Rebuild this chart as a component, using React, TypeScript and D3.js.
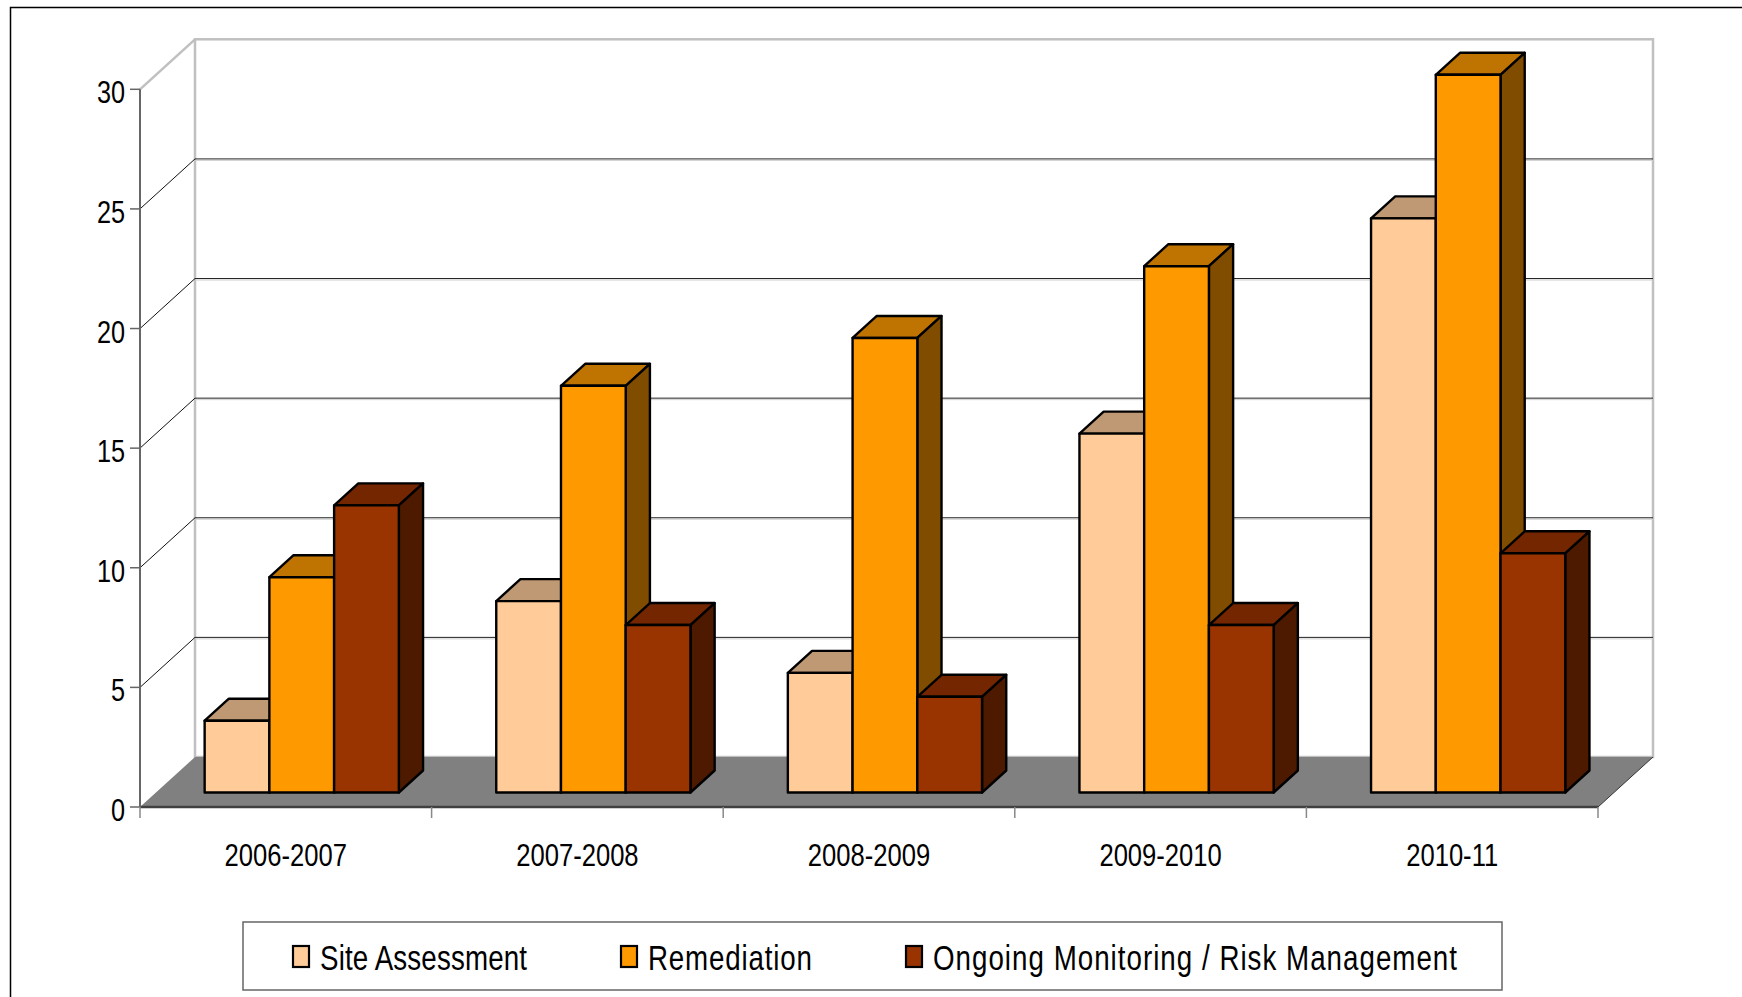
import React from "react";
import * as d3 from "d3";

// chart data
const categories = ["2006-2007", "2007-2008", "2008-2009", "2009-2010", "2010-11"];
const seriesNames = ["Site Assessment", "Remediation", "Ongoing Monitoring / Risk Management"];
const siteAssessment = [3, 8, 5, 15, 24];
const remediation = [9, 17, 19, 22, 30];
const monitoring = [12, 7, 4, 7, 10];
const yTicks = [0, 5, 10, 15, 20, 25, 30];

const seriesValues = [siteAssessment, remediation, monitoring];
const colors = ["#FFCC99", "#FF9900", "#993300"];

const W = 1742;
const H = 997;
const FONT = "'Liberation Sans', Arial, sans-serif";

// 3d depth offset of the plot box
const DX = 55;
const DY = 50;
const Z0 = 0.29;
const Z1 = 0.73;

const shade = (c: string, k: number) => {
  const col = d3.rgb(c);
  return d3.rgb(col.r * k, col.g * k, col.b * k).formatHex();
};

// narrow text: regular sans squeezed horizontally
function NText(props: {
  x: number;
  y: number;
  size: number;
  sx: number;
  anchor?: string;
  len?: number;
  children: React.ReactNode;
}) {
  return (
    <text
      transform={`translate(${props.x},${props.y}) scale(${props.sx},1)`}
      textAnchor={props.anchor || "start"}
      fontFamily={FONT}
      fontSize={props.size}
      fill="#000"
      textLength={props.len ? props.len / props.sx : undefined}
      lengthAdjust={props.len ? "spacing" : undefined}
    >
      {props.children}
    </text>
  );
}

export default function App() {
  const x = d3.scaleBand<string>().domain(categories).range([140, 1598]).padding(0);
  const bw = x.bandwidth();
  const x1 = d3
    .scaleBand<string>()
    .domain(seriesNames)
    .range([bw * 0.167, bw * 0.833])
    .padding(0);
  const y = d3.scaleLinear().domain([0, 30]).range([807, 89.3]);

  const [xl, xr] = x.range();
  const p = (px: number, v: number, z: number) => [px + z * DX, y(v) - z * DY];
  const pts = (arr: number[][]) => arr.map((d) => d.join(",")).join(" ");

  const bars: React.ReactNode[] = [];
  categories.forEach((cat, i) => {
    seriesNames.forEach((s, j) => {
      const v = seriesValues[j][i];
      const x0 = (x(cat) as number) + (x1(s) as number);
      const w = x1.bandwidth();
      const c = colors[j];
      const top = [p(x0, v, Z0), p(x0 + w, v, Z0), p(x0 + w, v, Z1), p(x0, v, Z1)];
      const side = [p(x0 + w, v, Z0), p(x0 + w, v, Z1), p(x0 + w, 0, Z1), p(x0 + w, 0, Z0)];
      const front = [p(x0, v, Z0), p(x0 + w, v, Z0), p(x0 + w, 0, Z0), p(x0, 0, Z0)];
      bars.push(
        <g key={cat + s} stroke="#000" strokeWidth={2.4} strokeLinejoin="round">
          <polygon points={pts(top)} fill={shade(c, 0.75)} />
          <polygon points={pts(side)} fill={shade(c, 0.5)} />
          <polygon points={pts(front)} fill={c} />
        </g>
      );
    });
  });

  const gridVals = yTicks.filter((t) => t > 0 && t < 30);
  // legend layout: swatch x and text width
  const legendX = [292, 620, 905];
  const legendLen = [207, 164, 524];

  return (
    <svg
      width={W}
      height={H}
      style={{ position: "absolute", left: 0, top: 0, display: "block", background: "#fff" }}
    >
      <rect x={10.5} y={7.5} width={1800} height={1100} fill="#fff" stroke="#000" strokeWidth={1.5} />

      {/* walls */}
      <polygon
        points={pts([p(xl, 30, 0), p(xl, 30, 1), p(xl, 0, 1), p(xl, 0, 0)])}
        fill="#fff"
      />
      <rect
        x={xl + DX}
        y={y(30) - DY}
        width={xr - xl}
        height={y(0) - y(30)}
        fill="#fff"
        stroke="#c0c0c0"
        strokeWidth={2.5}
      />
      <line
        x1={xl}
        y1={y(30)}
        x2={xl + DX}
        y2={y(30) - DY}
        stroke="#c0c0c0"
        strokeWidth={2.5}
      />
      {gridVals.map((t) => (
        <g key={t}>
          <line x1={xl + DX} x2={xr + DX} y1={y(t) - DY + 1.5} y2={y(t) - DY + 1.5} stroke="#d0d0d0" strokeWidth={1} />
          <line x1={xl + DX} x2={xr + DX} y1={y(t) - DY} y2={y(t) - DY} stroke="#222" strokeWidth={1} />
          <line x1={xl} x2={xl + DX} y1={y(t)} y2={y(t) - DY} stroke="#111" strokeWidth={1} />
        </g>
      ))}

      {/* floor */}
      <polygon points={pts([p(xl, 0, 0), p(xr, 0, 0), p(xr, 0, 1), p(xl, 0, 1)])} fill="#808080" />
      <line x1={xr} y1={y(0)} x2={xr + DX} y2={y(0) - DY} stroke="#333" strokeWidth={1} />
      <line x1={xl} x2={xr} y1={y(0)} y2={y(0)} stroke="#404040" strokeWidth={2.5} />

      {/* y axis */}
      <line x1={xl} x2={xl} y1={y(30)} y2={y(0)} stroke="#666" strokeWidth={2} />
      {yTicks.map((t) => (
        <g key={t}>
          <line x1={xl - 10} x2={xl} y1={y(t)} y2={y(t)} stroke="#666" strokeWidth={1.5} />
          <NText x={xl - 15} y={y(t) + 14} size={32} sx={0.79} anchor="end">
            {t}
          </NText>
        </g>
      ))}

      {/* x axis */}
      {[...categories.map((c) => x(c) as number), xr].map((tx, i) => (
        <line key={i} x1={tx} x2={tx} y1={y(0)} y2={y(0) + 11} stroke="#888" strokeWidth={1.5} />
      ))}
      {categories.map((c) => (
        <NText key={c} x={(x(c) as number) + bw / 2} y={866} size={32} sx={0.8} anchor="middle">
          {c}
        </NText>
      ))}

      {bars}

      {/* legend */}
      <rect x={243} y={922} width={1259} height={68} fill="#fff" stroke="#666" strokeWidth={1.5} />
      {seriesNames.map((s, j) => (
        <g key={s}>
          <rect x={legendX[j] + 1} y={946} width={16} height={21} fill={colors[j]} stroke="#000" strokeWidth={2.2} />
          <NText x={legendX[j] + 28} y={970} size={36} sx={0.77} len={legendLen[j]}>
            {s}
          </NText>
        </g>
      ))}
    </svg>
  );
}
